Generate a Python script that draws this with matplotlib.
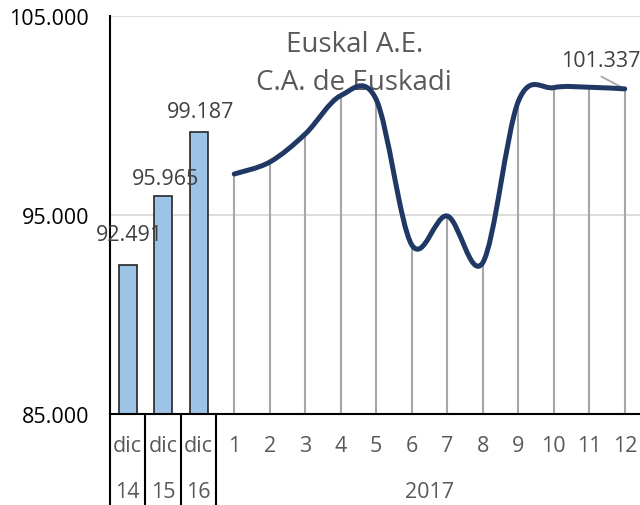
import matplotlib.pyplot as plt
from matplotlib.path import Path
from matplotlib.patches import PathPatch

plt.rcParams['font.family'] = ['Open Sans', 'DejaVu Sans']

bar_cats = ['dic', 'dic', 'dic']
bar_years = ['14', '15', '16']
bar_vals = [92.491, 95.965, 99.187]
months = ['1', '2', '3', '4', '5', '6', '7', '8', '9', '10', '11', '12']
line_vals = [97.06, 97.66, 99.07, 101.0, 100.8, 93.5, 94.95, 92.6, 100.7, 101.4, 101.42, 101.337]
yticks = [85, 95, 105]
ytick_labels = ['85.000', '95.000', '105.000']

fig = plt.figure(figsize=(6.4, 5.06), dpi=100)
ax = fig.add_axes([110 / 640, 91 / 506, 530 / 640, 398 / 506])

nb = len(bar_vals)
bx = list(range(nb))
lx = [nb + i for i in range(len(line_vals))]

# grid + axes
ax.set_ylim(85, 105)
ax.set_xlim(-0.5, 14.43)
for y in yticks[1:]:
    ax.axhline(y, color='#d9d9d9', lw=1.3, zorder=0)
for s in ['top', 'right']:
    ax.spines[s].set_visible(False)
ax.spines['left'].set_color('black')
ax.spines['left'].set_linewidth(1.5)
ax.spines['bottom'].set_color('black')
ax.spines['bottom'].set_linewidth(1.5)
ax.spines['bottom'].set_zorder(5)
ax.set_yticks(yticks)
ax.set_yticklabels(ytick_labels, fontsize=15.5, color='black')
ax.tick_params(axis='y', length=0, pad=15)
ax.set_xticks([])

# bars
ax.bar(bx, [v - 85 for v in bar_vals], width=0.5, bottom=85, color='#9dc3e6',
       edgecolor='#262626', lw=1.2, zorder=2)
bar_label_off = [1.55, 0.85, 1.0]
for x, v, o in zip(bx, bar_vals, bar_label_off):
    ax.text(x + 0.05, v + o, f'{v:.3f}', ha='center', va='center', fontsize=15.5, color='#404040', zorder=6)

# drop lines
ax.vlines(lx, 85, line_vals, color='#a6a6a6', lw=1.5, zorder=1)

# smoothed line (Excel-style Bezier)
pts = list(zip(lx, line_vals))
n = len(pts)
verts = [pts[0]]
codes = [Path.MOVETO]
for i in range(n - 1):
    p0 = pts[max(i - 1, 0)]
    p1 = pts[i]
    p2 = pts[i + 1]
    p3 = pts[min(i + 2, n - 1)]
    c1 = (p1[0] + (p2[0] - p0[0]) / 6, p1[1] + (p2[1] - p0[1]) / 6)
    c2 = (p2[0] - (p3[0] - p1[0]) / 6, p2[1] - (p3[1] - p1[1]) / 6)
    verts += [c1, c2, p2]
    codes += [Path.CURVE4] * 3
ax.add_patch(PathPatch(Path(verts, codes), fill=False, edgecolor='#203864', lw=3.6,
                       capstyle='round', joinstyle='round', zorder=4))

# last value label with leader line
ax.plot([lx[-1] - 0.65, lx[-1]], [101.95, line_vals[-1]], color='#a6a6a6', lw=1.3, zorder=3)
ax.text(lx[-1] - 0.68, 102.75, f'{line_vals[-1]:.3f}', ha='center', va='center',
        fontsize=15.5, color='#404040', zorder=6, clip_on=False)

# title
ax.text(6.38, 103.6, 'Euskal A.E.', ha='center', va='center', fontsize=20, color='#595959', zorder=3)
ax.text(6.38, 101.7, 'C.A. de Euskadi', ha='center', va='center', fontsize=20, color='#595959', zorder=3)

# category axis labels
lab_kw = dict(ha='center', va='center', fontsize=15.5, color='#595959', clip_on=False)
for x, c, yr in zip(bx, bar_cats, bar_years):
    ax.text(x, 83.4, c, **lab_kw)
    ax.text(x, 81.1, yr, **lab_kw)
for x, m in zip(lx, months):
    ax.text(x, 83.4, m, **lab_kw)
ax.text((lx[0] + lx[-1]) / 2, 81.1, '2017', **lab_kw)
sep_x = [-0.5] + [b + 0.5 for b in bx]
ax.vlines(sep_x, 80.4, 85, color='black', lw=1.5, clip_on=False, zorder=5)

fig.savefig('out.png', dpi=100)
